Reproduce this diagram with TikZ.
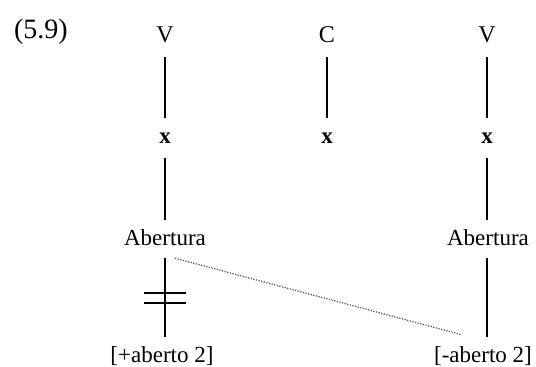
\documentclass[tikz,border=0pt]{standalone}
\usepackage{fontspec}
\setmainfont{Liberation Serif}
\usetikzlibrary{calc}
\begin{document}
\begin{tikzpicture}[x=1pt,y=-1pt,
  lbl/.style={inner sep=0pt,text height=15pt,text depth=4pt,font=\fontsize{23}{27}\selectfont},
  xlbl/.style={lbl,font=\fontsize{23}{27}\selectfont\bfseries},
  lnk/.style={line width=1.4pt,shorten <=10pt,shorten >=10pt},
  dots/.style={black!70,line width=1.2pt,dash pattern=on 1.2pt off 1.5pt}]
\useasboundingbox (0,0) rectangle (536,367);
\node[lbl,font=\fontsize{28}{32}\selectfont] (num) at (41,33) {(5.9)};
\node[lbl,font=\fontsize{24}{28}\selectfont] (V1) at (165,37) {V};
\node[xlbl] (x1) at (165,138) {x};
\node[lbl] (A1) at (165,239.5) {Abertura};
\node[lbl] (B1) at (162,356.5) {[+aberto 2]};
\node[lbl,font=\fontsize{24}{28}\selectfont] (C) at (327,37) {C};
\node[xlbl] (xc) at (327,138) {x};
\node[lbl,font=\fontsize{24}{28}\selectfont] (V2) at (487,37) {V};
\node[xlbl] (x2) at (487,138) {x};
\node[lbl] (A2) at (488,239.5) {Abertura};
\node[lbl] (B2) at (483,356.5) {[-aberto 2]};
\draw[lnk] (V1.south) -- (x1.north);
\draw[lnk] (x1.south) -- (A1.north);
\draw[lnk,shorten <=9pt,shorten >=10pt] (A1.south) -- (A1.south |- B1.north);
\draw[lnk] (C.south) -- (xc.north);
\draw[lnk] (V2.south) -- (x2.north);
\draw[lnk] (x2.south) -- (x2.south |- A2.north);
\draw[lnk,shorten <=9pt,shorten >=10pt] (x2.south |- A2.south) -- (x2.south |- B2.north);
\coordinate (m) at ($(A1.south)!0.5!(A1.south |- B1.north)$);
\draw[line width=1.4pt] ($(m)+(-21,-5)$) -- ($(m)+(21,-5)$);
\draw[line width=1.4pt] ($(m)+(-21,5)$) -- ($(m)+(21,5)$);
\draw[dots] ($(A1.south)+(10,9)$) -- ($(B2.north)+(-21,-12)$);
\end{tikzpicture}
\end{document}
